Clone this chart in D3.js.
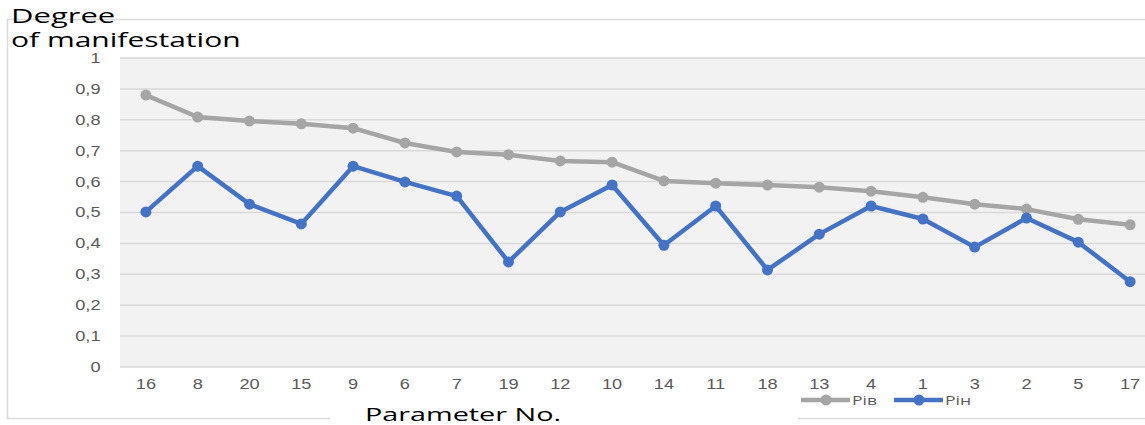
<!DOCTYPE html>
<html>
<head>
<meta charset="utf-8">
<script src="https://cdn.jsdelivr.net/npm/d3@7"></script>
<style>
  body { margin: 0; background: #fff; }
  svg { display: block; font-family: "Open Sans", "Liberation Sans", sans-serif; }
</style>
</head>
<body>
<div id="chart"></div>
<script>
// parameter numbers, in the order shown
var params = ["16","8","20","15","9","6","7","19","12","10","14","11","18","13","4","1","3","2","5","17"];
// Рів (gray) and Рін (blue)
var rivValues = [0.88,0.809,0.796,0.787,0.773,0.725,0.696,0.687,0.667,0.663,0.602,0.595,0.589,0.582,0.569,0.549,0.527,0.511,0.478,0.46];
var rinValues = [0.502,0.65,0.527,0.463,0.65,0.599,0.553,0.34,0.502,0.589,0.394,0.521,0.314,0.43,0.521,0.479,0.388,0.482,0.404,0.276];
var yTicks = [0,0.1,0.2,0.3,0.4,0.5,0.6,0.7,0.8,0.9,1];
var seriesNames = ["Рів","Рін"];
var seriesColors = ["#a5a5a5","#4472c4"];

var W = 1145, H = 425;
var plotLeft = 120, plotRight = 1156;
// the source picture is stretched sideways, so text gets a horizontal scale
var tickStretch = 1.3;

var svg = d3.select("#chart").append("svg")
    .attr("width", W)
    .attr("height", H);

// places a text at (x, y) stretched horizontally by sx
function stretchedText(x, yPos, sx, str) {
    return svg.append("text")
        .attr("transform", "translate(" + x + "," + yPos + ") scale(" + sx + ",1)")
        .text(str);
}

// outer frame (broken at the bottom by axis title and legend)
var frame = svg.append("g").attr("stroke", "#d9d9d9").attr("stroke-width", 1.5).attr("fill", "none");
frame.append("path").attr("d", "M330,418.5H7.5V19.5H1150");
frame.append("path").attr("d", "M798,418.5H1150");

var x = d3.scaleBand().domain(params).range([plotLeft, plotRight]);
var y = d3.scaleLinear().domain([0, 1]).range([367, 58]);

// plot background
svg.append("rect")
    .attr("x", plotLeft).attr("y", y(1))
    .attr("width", plotRight - plotLeft)
    .attr("height", y(0) - y(1))
    .attr("fill", "#f2f2f2");

// gridlines
svg.append("g")
    .selectAll("line")
    .data(yTicks)
    .join("line")
    .attr("x1", plotLeft).attr("x2", plotRight)
    .attr("y1", function(d) { return y(d); })
    .attr("y2", function(d) { return y(d); })
    .attr("stroke", "#d9d9d9")
    .attr("stroke-width", 1.5);

// Y axis labels
var yAxis = svg.append("g")
    .attr("transform", "translate(" + plotLeft + ",0)")
    .call(d3.axisLeft(y).tickValues(yTicks).tickSize(0).tickPadding(15)
        .tickFormat(function(d) { return d3.format("")(d).replace(".", ","); }));
yAxis.select(".domain").remove();
yAxis.selectAll("text")
    .attr("fill", "#595959")
    .attr("transform", "scale(" + tickStretch + ",1)")
    .style("font-size", "14px");

// X axis labels
var xAxis = svg.append("g")
    .attr("transform", "translate(0," + y(0) + ")")
    .call(d3.axisBottom(x).tickSize(0).tickPadding(12));
xAxis.select(".domain").remove();
xAxis.selectAll("text")
    .attr("fill", "#595959")
    .attr("transform", "scale(" + tickStretch + ",1)")
    .style("font-size", "14px");

// lines
var allSeries = [rivValues, rinValues];
var line = d3.line()
    .x(function(d, i) { return x(params[i]) + x.bandwidth() / 2; })
    .y(function(d) { return y(d); });

allSeries.forEach(function(vals, si) {
    svg.append("path")
        .datum(vals)
        .attr("fill", "none")
        .attr("stroke", seriesColors[si])
        .attr("stroke-width", 4.5)
        .attr("stroke-linejoin", "round")
        .attr("d", line);
    svg.append("g")
        .selectAll("circle")
        .data(vals)
        .join("circle")
        .attr("cx", function(d, i) { return x(params[i]) + x.bandwidth() / 2; })
        .attr("cy", function(d) { return y(d); })
        .attr("r", 5.5)
        .attr("fill", seriesColors[si]);
});

// axis titles
stretchedText(11, 23, 1.55, "Degree").attr("fill", "#000").style("font-size", "20px");
stretchedText(11, 47, 1.5, "of manifestation").attr("fill", "#000").style("font-size", "20px");

stretchedText(463, 421, 1.6, "Parameter No.")
    .attr("text-anchor", "middle")
    .attr("fill", "#000")
    .style("font-size", "18px");

// legend
var legendX = [801, 894];
seriesNames.forEach(function(name, i) {
    var g = svg.append("g").attr("transform", "translate(" + legendX[i] + ",400)");
    g.append("line").attr("x1", 0).attr("x2", 49).attr("y1", 0).attr("y2", 0)
        .attr("stroke", seriesColors[i]).attr("stroke-width", 4.5);
    g.append("circle").attr("cx", 25).attr("cy", 0).attr("r", 5.5).attr("fill", seriesColors[i]);
    g.append("text")
        .attr("transform", "translate(51,5) scale(1.35,1)")
        .attr("fill", "#595959").style("font-size", "13px").text(name);
});
</script>
</body>
</html>
